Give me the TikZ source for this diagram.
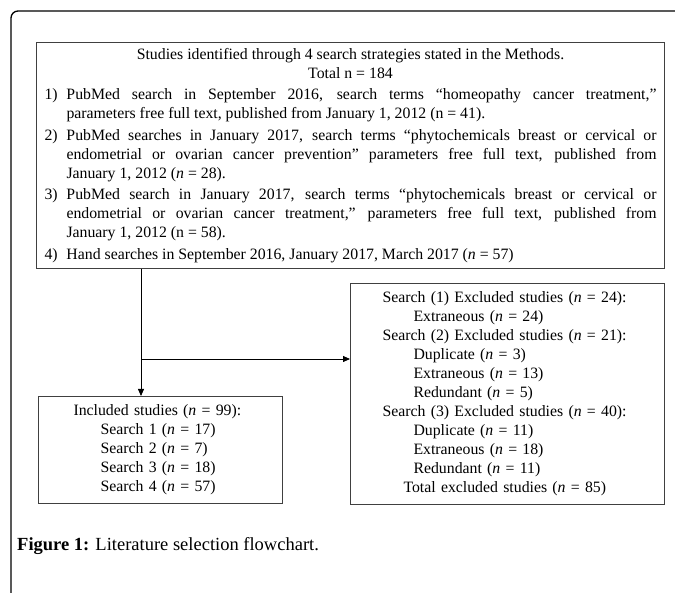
\documentclass[tikz,border=0pt]{standalone}
\usepackage{fontspec}
\setmainfont{Liberation Serif}
\usetikzlibrary{arrows.meta,positioning}

\tikzstyle{line} = [draw, -{Triangle[length=7pt,width=6pt]}, line width=0.8pt]
\tikzstyle{frame} = [draw, line width=1.3pt, rounded corners=7pt]
\tikzstyle{block} = [draw=black!75, rectangle, line width=1pt, anchor=north west, font=\fontsize{15.8}{19}\selectfont]
\tikzstyle{block1} = [block, text width=612pt, inner xsep=8pt, inner ysep=0pt, minimum height=226pt, align=justify]
\tikzstyle{block2} = [block, text width=174pt, inner xsep=35pt, inner ysep=0pt, minimum height=107pt, align=left]
\tikzstyle{block3} = [block, text width=250pt, inner xsep=32pt, inner ysep=0pt, minimum height=221pt, align=left]

\newcommand{\srchitem}[1]{\par\noindent\hangindent=22pt\hangafter=1\makebox[22pt][l]{#1}}
\newcommand{\nn}{\textit{n}}

\begin{document}
\begin{tikzpicture}[x=1pt, y=-1pt]
\useasboundingbox (0,0) rectangle (675,593);
% moldura
\path [frame] (11,593) -- (11,11) -- (675,11);
% caixa de busca
\node [block1] (search) at (36,42) {%
  {\centering Studies identified through 4 search strategies stated in the Methods.\\
  Total n = 184\par}\vspace{2.5pt}
  \srchitem{1)}PubMed search in September 2016, search terms “homeopathy cancer treatment,”
  \linebreak parameters free full text, published from January 1, 2012 (n = 41).\par\vspace{2.5pt}
  \srchitem{2)}PubMed searches in January 2017, search terms “phytochemicals breast or cervical or
  \linebreak endometrial or ovarian cancer prevention” parameters free full text, published from
  \linebreak January 1, 2012 (\nn{} = 28).\par\vspace{2.5pt}
  \srchitem{3)}PubMed search in January 2017, search terms “phytochemicals breast or cervical or
  \linebreak endometrial or ovarian cancer treatment,” parameters free full text, published from
  \linebreak January 1, 2012 (n = 58).\par\vspace{2.5pt}
  \srchitem{4)}Hand searches in September 2016, January 2017, March 2017 (\nn{} = 57)\par};
% incluidos
\node [block2] (included) at (38,396) {%
  Included studies (\nn{} = 99):\\
  \hspace*{27pt}Search 1 (\nn{} = 17)\\
  \hspace*{27pt}Search 2 (\nn{} = 7)\\
  \hspace*{27pt}Search 3 (\nn{} = 18)\\
  \hspace*{27pt}Search 4 (\nn{} = 57)};
% excluidos
\node [block3] (excluded) at (350,283) {%
  Search (1) Excluded studies (\nn{} = 24):\\
  \hspace*{31pt}Extraneous (\nn{} = 24)\\
  Search (2) Excluded studies (\nn{} = 21):\\
  \hspace*{31pt}Duplicate (\nn{} = 3)\\
  \hspace*{31pt}Extraneous (\nn{} = 13)\\
  \hspace*{31pt}Redundant (\nn{} = 5)\\
  Search (3) Excluded studies (\nn{} = 40):\\
  \hspace*{31pt}Duplicate (\nn{} = 11)\\
  \hspace*{31pt}Extraneous (\nn{} = 18)\\
  \hspace*{31pt}Redundant (\nn{} = 11)\\
  \hspace*{21pt}Total excluded studies (\nn{} = 85)};
% legenda
\node [anchor=base west, inner sep=0pt, font=\fontsize{18.5}{22}\selectfont] (caption) at (17,550)
  {\textbf{Figure 1:} Literature selection flowchart.};
%arrows
\coordinate (trunk) at (141,0);
\coordinate (fork) at (141,359);
\path [line] (search.south -| trunk) -- (included.north -| trunk);
\path [line] (fork) -- (fork -| excluded.west);
\end{tikzpicture}
\end{document}
